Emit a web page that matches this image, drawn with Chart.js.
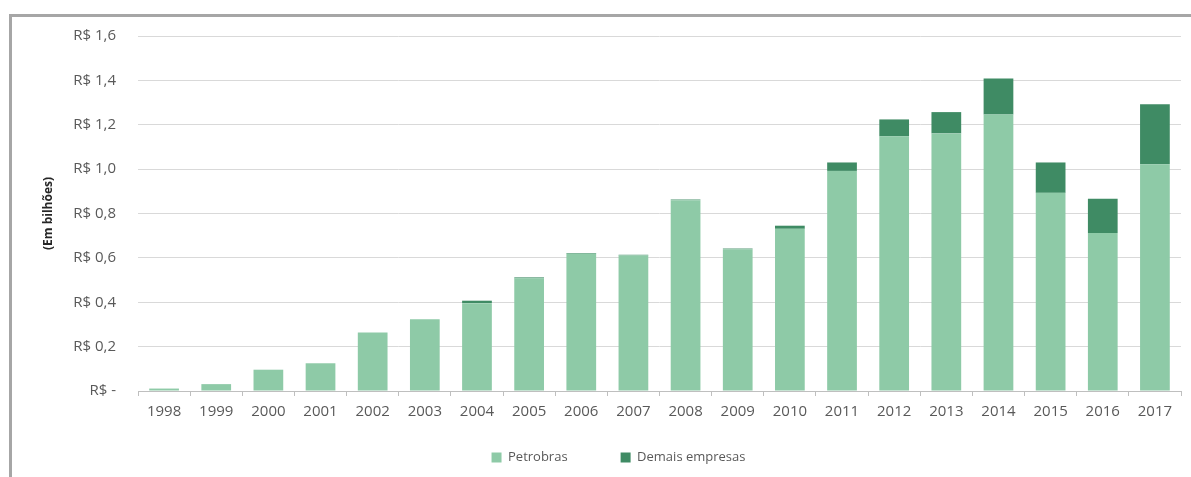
<!DOCTYPE html>
<html lang="pt-BR">
<head>
<meta charset="utf-8">
<title>Investimentos em P&amp;D</title>
<script src="https://cdn.jsdelivr.net/npm/chart.js@4/dist/chart.umd.min.js"></script>
<style>
  html, body { margin:0; padding:0; background:#fff; }
  #wrap { position:relative; width:1191px; height:477px; }
  #frame {
    position:absolute; left:9px; top:14px; right:0; bottom:0;
    border-top:3px solid #a6a6a6; border-left:3px solid #a6a6a6;
    pointer-events:none;
  }
</style>
</head>
<body>
<div id="wrap">
  <canvas id="chart" width="1191" height="477"></canvas>
  <div id="frame"></div>
</div>
<script>
// valores em R$ bilhões
const anos = ['1998','1999','2000','2001','2002','2003','2004','2005','2006','2007',
              '2008','2009','2010','2011','2012','2013','2014','2015','2016','2017'];
const petrobras = [0.011, 0.031, 0.096, 0.125, 0.264, 0.323, 0.396, 0.508, 0.619, 0.611,
                   0.860, 0.639, 0.731, 0.992, 1.148, 1.161, 1.246, 0.893, 0.712, 1.022];
const demaisEmpresas = [0, 0, 0, 0, 0, 0, 0.011, 0.004, 0.003, 0.003,
                        0.003, 0.003, 0.014, 0.038, 0.076, 0.096, 0.163, 0.137, 0.154, 0.270];
const eixoY = { min:0, max:1.6, passo:0.2 };

const fonte = "'Open Sans', 'DejaVu Sans', sans-serif";
const cinzaTexto = '#595959';

const formatoReal = (v) => v === 0 ? 'R$ -' : 'R$ ' + Number(v).toFixed(1).replace('.', ',');

// o padding da legenda dá o espaço entre os itens; sobe o topo da caixa para compensar o espaço vertical
const ajustarLegenda = {
  id:'ajustarLegenda',
  afterLayout(chart){
    const lg = chart.legend;
    if (!lg) return;
    lg.top -= 23;
    lg.height += 23;
    lg.left += 8;
    lg.right += 8;
  }
};

new Chart(document.getElementById('chart'), {
  type:'bar',
  data:{
    labels: anos,
    datasets:[
      {
        label:'Petrobras',
        data: petrobras,
        backgroundColor:'#8ecaa7',
        stack:'total',
        barPercentage:0.57,
        categoryPercentage:1
      },
      {
        label:'Demais empresas',
        data: demaisEmpresas,
        backgroundColor:'#3f8b64',
        stack:'total',
        barPercentage:0.57,
        categoryPercentage:1
      }
    ]
  },
  plugins:[ajustarLegenda],
  options:{
    responsive:false,
    animation:false,
    // a margem esquerda centraliza a legenda; o eixo y completa até x=138
    layout:{ padding:{ top:36, right:10, bottom:0, left:40 } },
    plugins:{
      legend:{
        display:true,
        position:'bottom',
        maxHeight:56,
        labels:{
          boxWidth:10,
          boxHeight:10,
          padding:53,
          color:cinzaTexto,
          font:{ family:fonte, size:13 }
        }
      },
      tooltip:{ enabled:false }
    },
    scales:{
      x:{
        stacked:true,
        grid:{ drawOnChartArea:false, drawTicks:true, tickLength:5, color:'#bfbfbf' },
        border:{ color:'#bfbfbf' },
        ticks:{ color:cinzaTexto, padding:7, maxRotation:0, font:{ family:fonte, size:15 } },
        afterFit:(scale)=>{ scale.height = 30; }
      },
      y:{
        stacked:true,
        min:eixoY.min,
        max:eixoY.max,
        grid:{ color:'#d9d9d9', drawTicks:false },
        border:{ display:false },
        ticks:{
          stepSize:eixoY.passo,
          padding:22,
          color:cinzaTexto,
          font:{ family:fonte, size:15 },
          callback:(v)=> formatoReal(v)
        },
        title:{
          display:true,
          text:'(Em bilhões)',
          color:'#262626',
          padding:{ top:1, bottom:0 },
          font:{ family:fonte, size:12, weight:'bold' }
        },
        afterFit:(scale)=>{ scale.width = 98; }
      }
    }
  }
});
</script>
</body>
</html>
